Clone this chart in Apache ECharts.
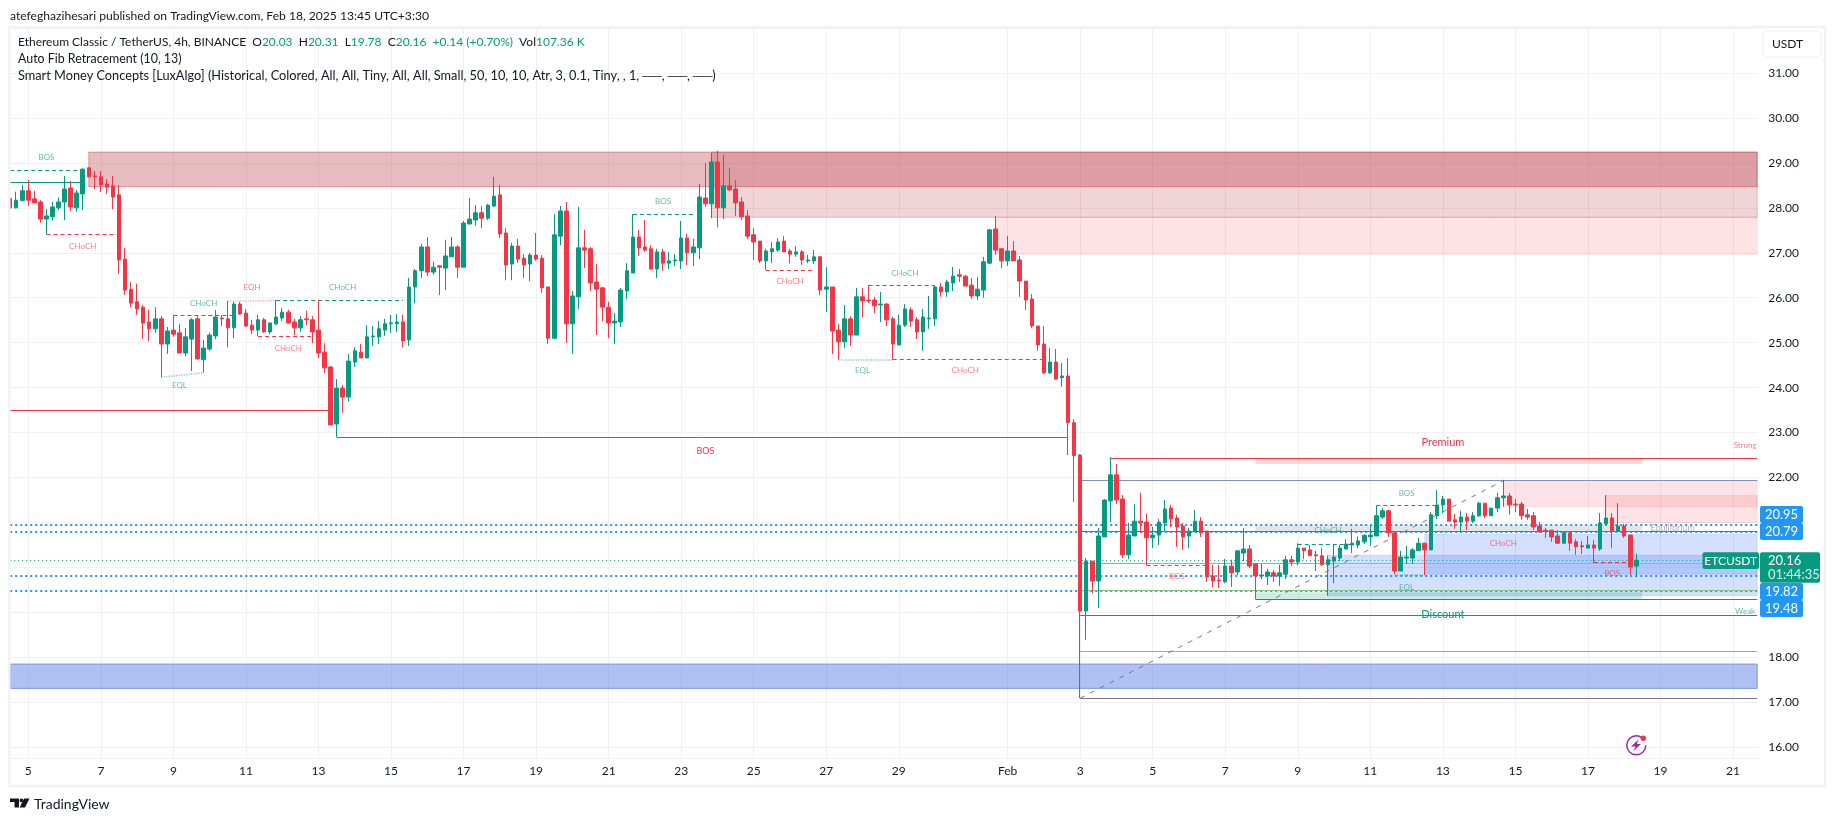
<!DOCTYPE html>
<html style="height: 100%">

<head>
    <meta charset="utf-8">
</head>

<body style="height: 100%; margin: 0; background: #fff">
    <div id="container" style="width: 1835px; height: 821px"></div>
    <script type="text/javascript" src="https://cdn.jsdelivr.net/npm/echarts@6/dist/echarts.min.js"></script>
    <script type="text/javascript">
        // ETC/USDT 4h bars
        var opens = [
            28.21,28.00,28.16,28.38,28.20,28.13,27.75,27.80,28.00,28.13,
            28.44,28.00,28.31,28.89,28.71,28.69,28.53,28.49,28.29,26.86,
            26.19,25.91,25.79,25.46,25.31,25.53,24.97,25.28,25.22,24.77,
            25.08,25.53,24.62,24.86,25.15,25.55,25.53,25.33,25.86,25.66,
            25.39,25.28,25.51,25.24,25.42,25.55,25.68,25.46,25.33,25.53,
            25.51,25.28,24.79,24.46,23.19,23.99,23.79,24.57,24.79,24.66,
            25.13,25.13,25.28,25.42,25.42,25.46,25.06,26.24,26.60,27.13,
            26.57,26.71,26.66,26.91,27.13,26.68,27.64,27.73,27.89,27.77,
            28.04,28.29,27.44,26.75,27.15,26.88,26.75,26.95,26.88,26.24,
            25.10,27.37,27.93,25.42,26.02,27.11,27.09,26.35,26.22,25.79,
            25.44,25.46,26.15,26.55,27.35,27.13,27.09,26.64,27.02,26.77,
            26.82,26.82,27.33,27.00,27.11,28.22,28.09,29.02,28.00,28.49,
            28.42,28.13,27.82,27.40,27.26,26.82,27.02,27.06,27.26,27.04,
            26.97,27.02,26.82,26.82,26.91,26.19,26.24,25.28,25.02,25.53,
            25.17,26.02,25.95,25.95,25.84,25.86,25.53,24.95,25.39,25.73,
            25.51,25.24,25.53,25.53,26.24,26.13,26.33,26.51,26.48,26.28,
            26.04,26.17,26.77,27.53,27.09,26.82,27.04,26.84,26.37,25.97,
            25.37,24.97,24.33,24.57,24.22,24.26,23.22,22.50,19.03,20.14,
            19.70,20.68,21.48,22.06,21.52,20.28,20.70,21.03,21.01,20.66,
            20.72,20.99,21.32,21.10,20.92,20.70,20.79,21.03,20.81,19.81,
            19.72,19.68,20.03,19.90,20.32,20.41,20.08,19.81,19.81,19.88,
            19.81,19.85,20.17,20.12,20.43,20.39,20.28,20.26,20.06,20.14,
            20.21,20.41,20.50,20.50,20.57,20.68,20.70,21.12,21.26,20.77,
            19.92,20.21,20.21,20.37,20.54,20.39,21.15,21.39,21.52,21.06,
            21.01,21.12,21.03,21.15,21.43,21.15,21.32,21.55,21.59,21.41,
            21.41,21.17,21.15,20.92,20.83,20.83,20.70,20.54,20.77,20.57,
            20.48,20.43,20.50,20.41,20.97,21.10,20.81,20.92,20.72,20.03
        ];
        var closes = [
            28.00,28.17,28.38,28.17,28.11,27.75,27.82,28.02,28.13,28.42,
            28.02,28.33,28.86,28.69,28.69,28.51,28.46,28.24,26.84,26.17,
            25.88,25.75,25.44,25.31,25.53,24.97,25.26,25.19,24.77,25.13,
            25.51,24.64,24.88,25.17,25.57,25.53,25.33,25.86,25.64,25.37,
            25.28,25.51,25.24,25.44,25.57,25.68,25.44,25.33,25.51,25.51,
            25.24,24.77,24.44,23.17,23.99,23.79,24.59,24.82,24.66,25.13,
            25.15,25.31,25.42,25.44,25.46,25.04,26.24,26.60,27.13,26.57,
            26.68,26.68,26.93,27.13,26.68,27.66,27.75,27.89,27.77,28.06,
            28.26,27.42,26.73,27.15,26.86,26.73,26.95,26.86,26.22,25.10,
            27.40,27.93,25.42,26.04,27.11,27.06,26.33,26.19,25.79,25.44,
            25.48,26.17,26.60,27.35,27.11,27.06,26.64,27.02,26.77,26.82,
            26.84,27.33,27.00,27.13,28.24,28.09,29.02,28.00,28.49,28.40,
            28.11,27.80,27.37,27.24,26.82,27.04,27.09,27.24,27.02,26.97,
            27.02,26.84,26.84,26.91,26.17,26.24,25.26,25.02,25.53,25.17,
            26.02,25.93,25.93,25.82,25.86,25.51,24.97,25.39,25.75,25.48,
            25.24,25.57,25.55,26.24,26.13,26.35,26.48,26.48,26.26,26.04,
            26.19,26.80,27.51,27.06,26.82,27.04,26.82,26.37,25.95,25.37,
            24.95,24.33,24.57,24.19,24.26,23.22,22.49,19.03,20.14,19.70,
            20.70,21.50,22.06,21.50,20.28,20.72,21.03,20.99,20.66,20.72,
            21.01,21.30,21.08,20.90,20.68,20.81,21.03,20.77,19.79,19.70,
            19.70,20.03,19.88,20.37,20.41,20.03,19.81,19.83,19.90,19.81,
            19.88,20.17,20.12,20.43,20.37,20.26,20.26,20.06,20.17,20.23,
            20.43,20.52,20.54,20.59,20.71,20.72,21.15,21.26,20.77,19.92,
            20.23,20.23,20.39,20.54,20.39,21.17,21.39,21.52,21.03,21.01,
            21.12,21.03,21.15,21.43,21.15,21.32,21.55,21.59,21.39,21.39,
            21.15,21.12,20.90,20.79,20.81,20.68,20.54,20.77,20.54,20.46,
            20.46,20.50,20.43,20.99,21.10,20.81,20.92,20.70,20.01,20.16
        ];
        var highs = [
            28.84,28.36,28.51,28.62,28.38,28.17,27.97,28.13,28.23,28.71,
            28.60,28.40,28.88,28.90,28.82,28.82,28.64,28.71,28.51,27.11,
            26.35,26.31,25.84,25.73,25.79,25.59,25.35,25.62,25.42,25.33,
            25.55,25.59,25.06,25.22,25.73,25.62,25.93,25.91,25.91,25.75,
            25.51,25.62,25.55,25.44,25.95,25.77,25.73,25.53,25.59,25.71,
            25.59,25.95,24.99,24.48,24.19,24.06,24.75,24.90,24.97,25.39,
            25.37,25.48,25.53,25.62,25.64,25.62,26.44,26.64,27.20,27.35,
            26.80,26.73,27.29,27.35,27.17,27.71,28.22,28.06,28.04,28.09,
            28.69,28.51,27.55,27.22,27.31,26.97,27.00,27.44,26.95,26.24,
            27.86,28.04,28.13,26.15,28.02,27.51,27.13,26.75,26.24,25.91,
            25.66,26.22,26.77,27.86,27.51,27.73,27.17,27.09,27.09,27.02,
            26.97,27.71,27.42,27.31,28.53,29.00,29.22,29.27,29.18,28.89,
            28.62,28.24,27.95,27.55,27.26,27.09,27.24,27.33,27.37,27.09,
            27.15,27.06,26.95,27.06,26.93,26.68,26.24,25.42,25.84,25.59,
            26.22,26.22,26.28,26.02,26.13,25.88,25.57,25.62,25.86,25.79,
            25.57,25.75,26.04,26.28,26.33,26.40,26.68,26.64,26.51,26.44,
            26.46,26.91,27.53,27.82,27.09,27.37,27.26,26.93,26.37,26.08,
            25.37,25.37,24.88,24.86,24.55,24.66,23.30,22.52,20.21,20.14,
            20.88,21.52,22.45,22.30,21.61,20.99,21.41,21.66,21.19,20.90,
            21.08,21.50,21.39,21.17,20.99,20.88,21.28,21.12,20.81,20.06,
            20.06,20.19,20.17,20.37,20.88,20.50,20.08,20.08,19.97,19.94,
            20.06,20.26,20.26,20.54,20.43,20.50,20.37,20.43,20.27,20.50,
            20.50,20.63,20.86,20.69,20.74,20.94,21.37,21.32,21.28,20.77,
            20.37,20.48,20.43,20.66,20.54,21.23,21.72,21.59,21.52,21.19,
            21.26,21.21,21.23,21.46,21.43,21.32,21.66,21.95,21.66,21.52,
            21.46,21.30,21.23,21.01,20.88,20.83,20.83,20.81,20.81,20.63,
            20.59,20.70,20.61,21.21,21.61,21.21,21.43,20.97,20.72,20.31
        ];
        var lows = [
            27.88,27.99,28.16,28.05,28.11,27.67,27.41,27.72,27.95,27.73,
            27.93,27.91,27.95,28.69,28.42,28.35,28.31,27.97,26.53,26.06,
            25.79,25.62,25.08,25.04,25.22,24.23,24.75,25.13,24.77,24.70,
            24.37,24.62,24.33,24.82,25.08,25.37,24.90,25.10,25.62,25.35,
            25.19,25.15,25.22,25.19,25.39,25.48,25.42,25.17,25.24,25.39,
            24.99,24.66,24.33,23.17,22.90,23.44,23.70,24.46,24.66,24.66,
            24.93,24.97,25.15,25.22,25.24,24.90,24.93,25.88,26.44,26.48,
            26.51,26.06,26.17,26.91,26.44,26.68,27.64,27.60,27.55,27.73,
            28.02,27.33,26.39,26.39,26.77,26.44,26.37,26.82,26.11,24.97,
            25.08,27.17,24.99,24.75,25.75,26.66,26.15,25.17,25.48,25.10,
            24.97,25.35,25.97,26.55,26.93,27.02,26.62,26.44,26.60,26.64,
            26.71,26.64,26.73,26.71,26.86,28.02,27.77,27.57,27.75,28.37,
            27.82,27.73,27.31,26.84,26.77,26.62,26.77,27.02,27.02,26.77,
            26.91,26.73,26.77,26.75,26.06,25.68,24.75,24.62,24.88,24.93,
            25.17,25.57,25.88,25.66,25.46,25.37,24.62,24.95,25.35,25.35,
            25.08,24.82,25.31,25.37,26.02,26.02,26.15,26.35,26.26,25.97,
            25.95,26.00,26.75,26.95,26.66,26.71,26.82,26.02,25.73,25.33,
            24.82,24.30,24.30,24.17,24.02,22.50,21.46,17.09,18.39,19.43,
            19.10,20.68,21.01,21.41,20.21,20.19,20.70,20.77,20.05,20.43,
            20.50,20.81,20.90,20.46,20.39,20.43,20.79,20.68,19.68,19.57,
            19.54,19.65,19.57,19.83,20.14,19.99,19.30,19.74,19.61,19.68,
            19.59,19.74,20.03,20.05,20.19,20.26,19.92,20.03,19.37,19.65,
            20.14,20.41,20.32,20.43,20.52,20.48,20.70,21.08,20.68,19.85,
            19.92,20.08,20.08,20.37,19.83,20.39,21.08,21.21,21.03,20.86,
            20.81,20.83,20.99,21.12,21.10,21.15,21.23,21.35,21.17,21.23,
            21.06,21.06,20.83,20.77,20.66,20.57,20.52,20.52,20.37,20.28,
            20.30,20.43,20.10,20.37,20.94,20.43,20.79,20.66,19.83,19.78
        ];

        // x axis: one band per 4h, 290 bands so the empty future part is there too
        var barCount = 290;
        var lastBar = 289;
        var tickLabels = ['5','7','9','11','13','15','17','19','21','23','25','27','29','Feb','3','5','7','9','11','13','15','17','19','21'];
        var tickBars = [3,15,27,39,51,63,75,87,99,111,123,135,147,165,177,189,201,213,225,237,249,261,273,285];

        // y axis
        var priceMin = 15.761;
        var priceMax = 32.023;

        // supply / demand zones: [first bar, last bar, top price, bottom price]
        var redZones = [[13,lastBar,29.24,28.47]];
        var fadedRedZones = [[116,lastBar,29.24,27.79]];
        var pinkZones = [[163,lastBar,27.79,26.97],[247,lastBar,21.93,21.35],[264,lastBar,21.60,21.00]];
        var blueZones = [[218,lastBar,20.27,19.37],[234,lastBar,20.74,19.85]];
        var strongBlueZones = [[0,lastBar,17.85,17.31]];
        var premiumZone = [206,270,22.44,22.30];
        var equilibriumZone = [206,270,20.94,20.81];
        var discountZone = [206,270,19.45,19.29];

        // structure lines: [bar a, price a, bar b, price b]
        var dashedGreen = [[0,28.83,12,28.83],[27,25.61,37,25.61],[44,25.94,65,25.94],[103,27.86,113,27.86],[142,26.28,153,26.28],[213,20.52,222,20.52],[226,21.39,236,21.39]];
        var dashedRed = [[6,27.41,18,27.41],[41,25.14,50,25.14],[125,26.61,133,26.61],[146,24.63,171,24.63],[188,20.05,198,20.05],[262,20.11,268,20.11]];
        var dottedGreen = [[25,24.23,32,24.33],[137,24.63,146,24.63],[229,19.83,234,19.83]];
        var dottedRed = [[36,25.92,44,25.94]];
        var solidRed = [[0,23.50,53,23.50],[54,22.90,175,22.90],[177,20.81,lastBar,20.81],[182,22.44,lastBar,22.44]];
        var solidGreen = [[0,28.57,12,28.57],[177,18.93,lastBar,18.93],[206,19.29,lastBar,19.29]];
        var fibGreen = [[177,20.09,lastBar,20.09],[177,19.50,lastBar,19.50]];
        var fibBlue = [[177,18.13,lastBar,18.13]];
        var fibSlate = [[177,21.93,lastBar,21.93]];
        var fibGrey = [[177,17.09,lastBar,17.09]];
        var fibTrend = [[177,17.09,247,21.93]];

        // horizontal alert levels and the last price
        var alertLevels = [20.95,20.79,19.82,19.48];
        var lastPrice = 20.16;

        // small texts inside the chart
        var greenTexts = [['BOS',6,29.12],['CHoCH',32,25.88],['CHoCH',55,26.23],['EQL',28,24.04],['BOS',108,28.15],['CHoCH',148,26.54],['EQL',141,24.38],['CHoCH',218,20.83],['BOS',231,21.65],['EQL',231,19.56],['Weak',287,19.03]];
        var redTexts = [['CHoCH',12,27.14],['EQH',40,26.22],['CHoCH',46,24.88],['CHoCH',129,26.37],['CHoCH',158,24.38],['BOS',193,19.79],['CHoCH',247,20.54],['BOS',265,19.87],['Strong',287,22.71]];
        var midTexts = [['BOS',115,22.58,'#f23645'],['Equilibrium',275,20.87,'#b2b5be']];
        var bigTexts = [['Premium',237,22.79,'#f23645'],['Discount',237,18.95,'#089981']];

        var green = '#089981';
        var red = '#f23645';
        var uiFont = 'Lato, Roboto, sans-serif';

        var categories = [];
        for (var i = 0; i < barCount; i++) {
            categories.push('b' + i);
        }
        var tickMap = {};
        tickBars.forEach(function (b, k) {
            tickMap[b] = tickLabels[k];
        });

        var candles = opens.map(function (o, k) {
            return [o, closes[k], lows[k], highs[k]];
        });

        var zonePairs = function (list, fill, border) {
            return list.map(function (z) {
                return [{
                    coord: [z[0], z[2]],
                    itemStyle: { color: fill, borderColor: border, borderWidth: border ? 1 : 0 }
                }, {
                    coord: [z[1], z[3]]
                }];
            });
        };
        var linePairs = function (list, color, width, dash) {
            return list.map(function (l) {
                return [{
                    coord: [l[0], l[1]],
                    lineStyle: { color: color, width: width, type: dash, cap: 'butt' }
                }, {
                    coord: [l[2], l[3]]
                }];
            });
        };
        var textPoints = function (list, color, size) {
            return list.map(function (t) {
                return {
                    coord: [t[1], t[2]],
                    symbolSize: 0,
                    label: {
                        show: true, position: 'inside', formatter: t[0],
                        color: t[3] || color, fontSize: size, fontFamily: uiFont
                    }
                };
            });
        };

        var levelLines = alertLevels.map(function (p) {
            return [0, p, lastBar, p];
        });

        var areaData = []
            .concat(zonePairs(redZones, 'rgba(178,40,51,0.31)', 'rgba(210,60,70,0.45)'))
            .concat(zonePairs(fadedRedZones, 'rgba(178,40,51,0.2)', 'rgba(210,60,70,0.3)'))
            .concat(zonePairs(pinkZones, 'rgba(242,54,69,0.14)', 'rgba(242,54,69,0.1)'))
            .concat(zonePairs(blueZones, 'rgba(41,98,255,0.2)', 'rgba(41,98,255,0.15)'))
            .concat(zonePairs(strongBlueZones, 'rgba(33,80,220,0.36)', '#7a97e8'))
            .concat(zonePairs([premiumZone], 'rgba(242,54,69,0.2)'))
            .concat(zonePairs([equilibriumZone], 'rgba(120,123,134,0.2)'))
            .concat(zonePairs([discountZone], 'rgba(8,153,129,0.2)'));

        var lineData = []
            .concat(linePairs(levelLines, '#2196f3', 2, [2, 3]))
            .concat(linePairs([[0, lastPrice, lastBar, lastPrice]], green, 1, [1, 3]))
            .concat(linePairs(dashedGreen, green, 1, [4, 3]))
            .concat(linePairs(dashedRed, red, 1, [4, 3]))
            .concat(linePairs(dottedGreen, 'rgba(8,153,129,0.6)', 1.5, [1, 1.5]))
            .concat(linePairs(dottedRed, 'rgba(242,54,69,0.5)', 1.5, [1, 1.5]))
            .concat(linePairs(solidRed, red, 1, 'solid'))
            .concat(linePairs(solidGreen, green, 1, 'solid'))
            .concat(linePairs(fibGreen, '#81c784', 1, 'solid'))
            .concat(linePairs(fibBlue, '#64b5f6', 1, 'solid'))
            .concat(linePairs(fibSlate, '#8390bd', 1, 'solid'))
            .concat(linePairs(fibGrey, '#787b86', 1, 'solid'))
            .concat(linePairs(fibTrend, '#787b86', 1, [5, 6]));

        var pointData = []
            .concat(textPoints(greenTexts, 'rgba(8,153,129,0.65)', 8))
            .concat(textPoints(redTexts, 'rgba(242,54,69,0.65)', 8))
            .concat(textPoints(midTexts, '#000', 9))
            .concat(textPoints(bigTexts, '#000', 11));

        // price tags on the scale, header texts, frame
        var tag = function (x, y, w, h, fill, text, size) {
            return [{
                type: 'rect', z: 100,
                shape: { x: x, y: y, width: w, height: h, r: 2 },
                style: { fill: fill }
            }, {
                type: 'text', z: 101,
                style: { text: text, x: x + w / 2, y: y + h / 2, fill: '#fff', font: (size || 13) + 'px ' + uiFont, textAlign: 'center', textVerticalAlign: 'middle' }
            }];
        };
        var plain = function (text, x, y, size, fill) {
            return {
                type: 'text', z: 101,
                style: { text: text, x: x, y: y, fill: fill || '#131722', font: size + 'px ' + uiFont, textVerticalAlign: 'middle' }
            };
        };
        var graphics = [
            { type: 'rect', z: 99, shape: { x: 0, y: 0, width: 9, height: 821 }, style: { fill: '#fff' } },
            { type: 'rect', z: 99, shape: { x: 1758, y: 27, width: 4, height: 731 }, style: { fill: '#fff' } },
            { type: 'rect', z: 99, shape: { x: 9.3, y: 27, width: 1815.7, height: 759 }, style: { fill: 'none', stroke: '#f2f2f3', lineWidth: 2.4 } },
            plain('atefeghazihesari published on TradingView.com, Feb 18, 2025 13:45 UTC+3:30', 10, 16, 12.1),
            {
                type: 'text', z: 101,
                style: {
                    text: 'Ethereum Classic / TetherUS, 4h, BINANCE  O{g|20.03}  H{g|20.31}  L{g|19.78}  C{g|20.16}  {g|+0.14 (+0.70%)}  Vol{g|107.36 K}',
                    x: 18, y: 42, fill: '#131722', font: '12px ' + uiFont, textVerticalAlign: 'middle',
                    rich: { g: { fill: green, font: '12px ' + uiFont } }
                }
            },
            plain('Auto Fib Retracement (10, 13)', 18, 59, 12.4),
            plain('Smart Money Concepts [LuxAlgo] (Historical, Colored, All, All, Tiny, All, All, Small, 50, 10, 10, Atr, 3, 0.1, Tiny, , 1, \u2500\u2500, \u2500\u2500, \u2500\u2500)', 18, 76, 12.75),
            { type: 'rect', z: 100, shape: { x: 1763, y: 31, width: 58, height: 26, r: 5 }, style: { fill: '#fff', stroke: '#eeeeee', lineWidth: 1 } },
            plain('USDT', 1772, 44.5, 12),
            // TradingView mark
            { type: 'polygon', z: 100, shape: { points: [[10, 798.5], [19, 798.5], [19, 807.5], [14.5, 807.5], [14.5, 802], [10, 802]] }, style: { fill: '#131722' } },
            { type: 'circle', z: 100, shape: { cx: 21.5, cy: 800.4, r: 1.9 }, style: { fill: '#131722' } },
            { type: 'polygon', z: 100, shape: { points: [[24.2, 798.5], [29.5, 798.5], [25, 807.5], [19.6, 807.5]] }, style: { fill: '#131722' } },
            plain('TradingView', 34, 804, 14),
            // purple badge
            { type: 'arc', z: 100, shape: { cx: 1636.3, cy: 745.3, r: 9.5, startAngle: 0, endAngle: Math.PI * 1.7 }, style: { fill: 'none', stroke: '#9c27b0', lineWidth: 1.5 } },
            { type: 'polygon', z: 100, shape: { points: [[1638.5, 739.5], [1631, 746.5], [1635.5, 746.5], [1633.5, 751], [1641, 744], [1636.8, 744]] }, style: { fill: '#9c27b0' } },
            { type: 'circle', z: 100, shape: { cx: 1643.3, cy: 738.3, r: 2.7 }, style: { fill: '#f23645' } }
        ]
            .concat(tag(1760, 506, 43, 17, '#2196f3', '20.95'))
            .concat(tag(1760, 523, 43, 17, '#2196f3', '20.79'))
            .concat(tag(1760, 583, 43, 17, '#2196f3', '19.82'))
            .concat(tag(1760, 600, 43, 17, '#2196f3', '19.48'))
            .concat(tag(1702.5, 552.3, 56.5, 16.7, green, 'ETCUSDT', 12))
            .concat([
                { type: 'rect', z: 100, shape: { x: 1760, y: 552.3, width: 60, height: 30.4, r: 2 }, style: { fill: green } },
                plain('20.16', 1768, 560.5, 13, '#fff'),
                plain('01:44:35', 1768, 575, 13, 'rgba(255,255,255,0.85)')
            ]);

        var dom = document.getElementById('container');
        var myChart = echarts.init(dom);
        var option = {
            animation: false,
            backgroundColor: '#fff',
            grid: { left: 7.18, top: 27, width: 1753.05, height: 731 },
            xAxis: {
                type: 'category',
                data: categories,
                axisLine: { show: false },
                axisTick: { show: false },
                axisLabel: {
                    margin: 7,
                    color: '#131722',
                    fontSize: 12,
                    fontFamily: uiFont,
                    interval: function (index) {
                        return tickMap[index] !== undefined;
                    },
                    formatter: function (value, index) {
                        return tickMap[index] || '';
                    }
                },
                splitLine: {
                    show: true,
                    alignWithLabel: true,
                    interval: function (index) {
                        return tickMap[index] !== undefined;
                    },
                    lineStyle: { color: '#f1f1f3', width: 1 }
                }
            },
            yAxis: {
                type: 'value',
                position: 'right',
                min: priceMin,
                max: priceMax,
                splitNumber: 16,
                axisLine: { show: false },
                axisTick: { show: false },
                axisLabel: {
                    margin: 8,
                    color: '#131722',
                    fontSize: 12,
                    fontFamily: uiFont,
                    showMinLabel: false,
                    showMaxLabel: false,
                    formatter: function (v) {
                        return (v > 31.5 || v % 1 !== 0) ? '' : v.toFixed(2);
                    }
                },
                splitLine: { show: true, lineStyle: { color: '#f1f1f3', width: 1 } }
            },
            series: [{
                type: 'candlestick',
                name: 'ETCUSDT',
                data: candles,
                barWidth: 4,
                itemStyle: {
                    color: green,
                    color0: red,
                    borderColor: green,
                    borderColor0: red,
                    borderWidth: 1
                },
                markArea: { silent: true, z: 1, data: areaData },
                markLine: { silent: true, z: 1, symbol: ['none', 'none'], label: { show: false }, data: lineData },
                markPoint: { silent: true, z: 6, symbol: 'circle', symbolSize: 0, data: pointData }
            }],
            graphic: graphics
        };
        myChart.setOption(option);
    </script>
</body>

</html>
